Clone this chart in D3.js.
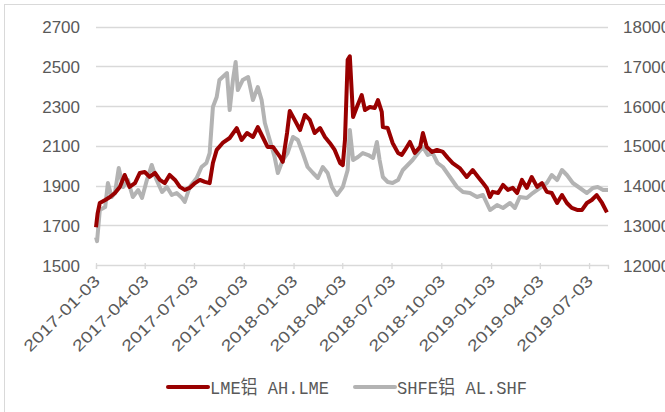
<!DOCTYPE html>
<html>
<head>
<meta charset="utf-8">
<script src="https://cdn.jsdelivr.net/npm/d3@7"></script>
<style>
  body { margin: 0; background: #fff; }
  svg { display: block; }
  text { font-family: "Liberation Sans", Arial, sans-serif; fill: #595959; }
  .legend text { font-family: "Liberation Mono", "Noto Sans CJK SC", monospace; }
</style>
</head>
<body>
<div id="chart"></div>
<script>
// LME aluminium (left axis)
var lmeDates = ["2017-01-03","2017-01-06","2017-01-10","2017-01-20","2017-01-29","2017-02-07","2017-02-16","2017-02-25",
  "2017-03-06","2017-03-16","2017-03-25","2017-04-03","2017-04-12","2017-04-22","2017-05-01","2017-05-10","2017-05-19",
  "2017-05-29","2017-06-07","2017-06-16","2017-06-25","2017-07-05","2017-07-14","2017-07-23","2017-08-01","2017-08-07",
  "2017-08-14","2017-08-25","2017-09-07","2017-09-20","2017-09-29","2017-10-09","2017-10-20","2017-10-29","2017-11-07",
  "2017-11-16","2017-11-26","2017-12-09","2017-12-14","2017-12-22","2017-12-27","2018-01-05","2018-01-15","2018-01-24",
  "2018-02-02","2018-02-11","2018-02-21","2018-03-02","2018-03-11","2018-03-20","2018-03-30","2018-04-04","2018-04-08",
  "2018-04-13","2018-04-17","2018-04-23","2018-04-30","2018-05-09","2018-05-15","2018-05-24","2018-06-02","2018-06-08",
  "2018-06-15","2018-06-17","2018-06-26","2018-07-05","2018-07-15","2018-07-22","2018-07-28","2018-08-06","2018-08-15",
  "2018-08-25","2018-08-30","2018-09-06","2018-09-16","2018-09-25","2018-10-06","2018-10-15","2018-10-24","2018-11-06",
  "2018-11-19","2018-11-30","2018-12-10","2018-12-19","2018-12-26","2019-01-01","2019-01-06","2019-01-16","2019-01-25",
  "2019-02-03","2019-02-12","2019-02-20","2019-03-01","2019-03-10","2019-03-19","2019-03-29","2019-04-07","2019-04-16",
  "2019-04-25","2019-05-05","2019-05-14","2019-05-23","2019-06-01","2019-06-11","2019-06-20","2019-06-29","2019-07-08",
  "2019-07-17","2019-07-27","2019-08-05"];
var lmeValues = [1690,1760,1812,1827,1842,1862,1893,1953,
  1893,1912,1963,1968,1943,1963,1928,1912,1953,
  1928,1893,1878,1888,1912,1928,1918,1912,2013,
  2079,2114,2139,2189,2129,2164,2144,2194,2144,
  2094,2094,2044,2019,2164,2275,2230,2179,2255,
  2230,2164,2189,2144,2114,2079,2013,2003,2129,
  2532,2550,2245,2295,2355,2280,2295,2290,2330,
  2270,2194,2189,2114,2064,2054,2079,2119,2064,
  2094,2164,2094,2069,2079,2069,2039,2013,1988,
  1943,1978,1943,1912,1888,1842,1868,1862,1903,
  1878,1888,1862,1928,1888,1943,1893,1912,1868,
  1862,1812,1852,1812,1787,1777,1777,1812,1827,
  1852,1812,1765];

// SHFE aluminium (right axis)
var shfeDates = ["2017-01-03","2017-01-05","2017-01-10","2017-01-20","2017-01-25","2017-02-01","2017-02-07","2017-02-14",
  "2017-02-22","2017-03-03","2017-03-12","2017-03-22","2017-03-29","2017-04-07","2017-04-16","2017-04-25","2017-05-05",
  "2017-05-14","2017-05-23","2017-06-01","2017-06-11","2017-06-16","2017-06-25","2017-07-08","2017-07-17","2017-07-26",
  "2017-08-01","2017-08-07","2017-08-14","2017-08-19","2017-08-25","2017-09-02","2017-09-07","2017-09-13","2017-09-18",
  "2017-09-22","2017-10-01","2017-10-11","2017-10-20","2017-10-29","2017-11-05","2017-11-11","2017-11-20","2017-11-29",
  "2017-12-05","2017-12-14","2017-12-23","2018-01-02","2018-01-11","2018-01-20","2018-01-29","2018-02-08","2018-02-17",
  "2018-02-26","2018-03-07","2018-03-15","2018-03-24","2018-04-04","2018-04-13","2018-04-17","2018-04-23","2018-05-02",
  "2018-05-11","2018-05-21","2018-05-30","2018-06-06","2018-06-11","2018-06-17","2018-06-26","2018-07-05","2018-07-15",
  "2018-07-24","2018-08-02","2018-08-11","2018-08-21","2018-08-30","2018-09-08","2018-09-17","2018-09-26","2018-10-06",
  "2018-10-19","2018-11-01","2018-11-12","2018-11-25","2018-12-08","2018-12-19","2019-01-01","2019-01-14","2019-01-25",
  "2019-02-07","2019-02-16","2019-02-25","2019-03-10","2019-03-21","2019-04-03","2019-04-16","2019-04-25","2019-05-05",
  "2019-05-14","2019-05-23","2019-06-03","2019-06-16","2019-06-29","2019-07-10","2019-07-19","2019-07-29","2019-08-07"];
var shfeValues = [12700,12600,13383,13459,14063,13711,13811,14440,
  13962,14138,13711,13887,13685,14138,14516,14138,13836,
  13962,13761,13811,13685,13585,13962,14189,14465,14566,
  14817,15975,16226,16654,16730,16830,15899,16654,17107,
  16402,16654,16730,16151,16478,16151,15572,15144,14717,
  14314,14641,14817,15220,15144,14817,14465,14314,14189,
  14465,14314,13962,13761,13962,14390,15396,14641,14717,
  14817,14767,14692,15094,14641,14214,14088,14063,14138,
  14390,14516,14641,14817,14968,14767,14817,14566,14465,
  14214,13962,13836,13811,13711,13761,13383,13509,13434,
  13560,13434,13711,13685,13811,13937,14063,14264,14138,
  14390,14264,14063,13937,13811,13937,13962,13887,13887];

var leftTicks = [1500, 1700, 1900, 2100, 2300, 2500, 2700];
var rightTicks = [12000, 13000, 14000, 15000, 16000, 17000, 18000];
var dateTicks = ["2017-01-03","2017-04-03","2017-07-03","2017-10-03","2018-01-03","2018-04-03",
  "2018-07-03","2018-10-03","2019-01-03","2019-04-03","2019-07-03"];
var seriesNames = ["LME铝 AH.LME", "SHFE铝 AL.SHF"];
var seriesColors = ["#990000", "#b3b3b3"];

var width = 665, height = 412;
var parse = d3.timeParse("%Y-%m-%d");
var fmt = d3.timeFormat("%Y-%m-%d");

var svg = d3.select("#chart").append("svg")
    .attr("width", width)
    .attr("height", height);

// outer frame
svg.append("rect")
    .attr("x", 4.5).attr("y", 4.5)
    .attr("width", 700).attr("height", 500)
    .attr("fill", "none")
    .attr("stroke", "#d9d9d9");

var x = d3.scaleTime()
    .domain([parse("2017-01-03"), parse("2019-08-07")])
    .range([96, 608]);
var yL = d3.scaleLinear().domain([1500, 2700]).range([265, 26.5]);
var yR = d3.scaleLinear().domain([12000, 18000]).range([265, 26.5]);

// gridlines
svg.append("g")
    .selectAll("line")
    .data(leftTicks.slice(1))
    .enter().append("line")
    .attr("x1", 96).attr("x2", 608)
    .attr("y1", function(d){ return Math.round(yL(d)) + 0.5; })
    .attr("y2", function(d){ return Math.round(yL(d)) + 0.5; })
    .attr("stroke", "#d9d9d9")
    .attr("stroke-width", 1.3);

// left labels
svg.append("g")
    .selectAll("text")
    .data(leftTicks)
    .enter().append("text")
    .attr("x", 80)
    .attr("y", function(d){ return yL(d) + 6.5; })
    .attr("text-anchor", "end")
    .style("font-size", "17px")
    .text(function(d){ return d; });

// right labels
svg.append("g")
    .selectAll("text")
    .data(rightTicks)
    .enter().append("text")
    .attr("x", 623)
    .attr("y", function(d){ return yR(d) + 6.5; })
    .style("font-size", "17px")
    .text(function(d){ return d; });

// x axis
var tickDates = dateTicks.map(parse);
var xAxis = d3.axisBottom(x)
    .tickValues(tickDates)
    .tickSize(4)
    .tickFormat("");
var gx = svg.append("g")
    .attr("transform", "translate(0,265)")
    .call(xAxis);
gx.select(".domain").attr("stroke", "#d9d9d9").attr("stroke-width", 1.3);
gx.selectAll(".tick line").attr("stroke", "#d9d9d9").attr("stroke-width", 1.3).attr("y1", -2);

svg.append("g")
    .selectAll("text")
    .data(tickDates)
    .enter().append("text")
    .attr("transform", function(d){ return "translate(" + (x(d) + 5) + ",282) rotate(-45)"; })
    .attr("text-anchor", "end")
    .attr("textLength", 100)
    .attr("lengthAdjust", "spacingAndGlyphs")
    .style("font-size", "16px")
    .text(function(d){ return fmt(d); });

// lines
var shfe = shfeDates.map(function(d, i){ return { date: parse(d), value: shfeValues[i] }; });
var lme = lmeDates.map(function(d, i){ return { date: parse(d), value: lmeValues[i] }; });

svg.append("path")
    .datum(shfe)
    .attr("fill", "none")
    .attr("stroke", seriesColors[1])
    .attr("stroke-width", 4)
    .attr("stroke-linejoin", "round")
    .attr("d", d3.line().x(function(d){ return x(d.date); }).y(function(d){ return yR(d.value); }));

svg.append("path")
    .datum(lme)
    .attr("fill", "none")
    .attr("stroke", seriesColors[0])
    .attr("stroke-width", 4)
    .attr("stroke-linejoin", "round")
    .attr("d", d3.line().x(function(d){ return x(d.date); }).y(function(d){ return yL(d.value); }));

// legend
var legend = svg.append("g").attr("class", "legend");
var legendX = [168, 355];
var legendW = [119, 130];
seriesNames.forEach(function(name, i){
  legend.append("line")
      .attr("x1", legendX[i]).attr("x2", legendX[i] + 40)
      .attr("y1", 387).attr("y2", 387)
      .attr("stroke", seriesColors[i])
      .attr("stroke-width", 4)
      .attr("stroke-linecap", "round");
  legend.append("text")
      .attr("x", legendX[i] + 42)
      .attr("y", 394)
      .attr("textLength", legendW[i])
      .attr("lengthAdjust", "spacingAndGlyphs")
      .style("font-size", "19px")
      .text(name);
});
</script>
</body>
</html>
